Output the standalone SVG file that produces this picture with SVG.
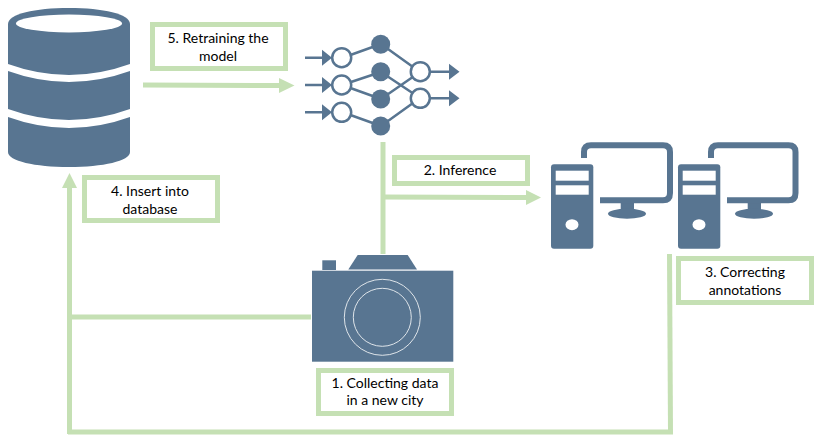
<svg xmlns="http://www.w3.org/2000/svg" width="821" height="448" viewBox="0 0 821 448">
<defs>
<style>
.f{fill:#587591}
.w{fill:#fff}
.box{fill:#fff;stroke:#c5e0b4;stroke-width:5}
.c{fill:none;stroke:#c5e0b4;stroke-width:5}
.h{fill:#c5e0b4}
.e{fill:none;stroke:#587591;stroke-width:2.5}
.o{fill:#fff;stroke:#587591;stroke-width:2.5}
.m{fill:none;stroke:#587591;stroke-width:6;stroke-linejoin:round}
.r{fill:none;stroke:#dfe5ea;stroke-width:1}
text{font-family:Lato,"Liberation Sans",sans-serif;font-size:14px;fill:#000;text-anchor:middle}
</style>
<g id="pc">
<rect class="f" x="551" y="164.3" width="42.3" height="84.4" rx="3"/>
<rect class="w" x="555.7" y="170.7" width="33" height="10"/>
<rect class="w" x="555.7" y="185.3" width="33" height="9.4"/>
<ellipse class="w" cx="572" cy="224.7" rx="6.5" ry="5.5"/>
<rect class="f" x="620.7" y="202" width="13.3" height="9"/>
<ellipse class="f" cx="627" cy="213.7" rx="19" ry="5"/>
</g>
</defs>
<g id="connectors">
<path class="c" d="M143,85L280,85.5"/><path class="h" d="M279,78L294.500,85.500L279,93Z"/>
<path class="c" d="M383,142V254"/>
<path class="c" d="M383,197L527,197.500"/><path class="h" d="M526,190L541,197.500L526,205Z"/>
<path class="c" d="M669.500,254L670.500,432"/>
<path class="c" d="M673,432L68,432"/>
<path class="c" d="M69.500,434V187"/><path class="h" d="M62,188L69.500,173L77,188Z"/>
<path class="c" d="M69,317H311"/>
</g>
<g id="database">
<path class="f" d="M8,24C8,14 35,8 69,8C103,8 130,14 130,24V64Q69,86 8,64Z"/>
<ellipse class="w" cx="69" cy="23.500" rx="53" ry="9"/>
<path class="f" d="M8,71Q69,93 130,71V109Q69,131 8,109Z"/>
<path class="f" d="M8,117Q69,139 130,117V152C130,161 103,167 69,167C35,167 8,161 8,152Z"/>
</g>
<g id="network">
<path class="e" d="M342,58L381,44M342,85L381,72M342,85L381,99M342,112L381,126M381,44L420,72M381,72L420,98M381,99L420,72M381,126L420,98"/>
<path class="e" d="M305,57.700H324M305,85H324M305,112.300H324M420,71.700H451M420,98.300H451"/>
<path class="f" d="M322,49.700L332,57.700L322,65.700ZM322,77L332,85L322,93ZM322,104.300L332,112.300L322,120.300ZM449,63.700L459.500,71.700L449,79.700ZM449,90.300L459.500,98.300L449,106.300Z"/>
<circle class="o" cx="341.700" cy="57.700" r="9.500"/><circle class="o" cx="341.700" cy="85" r="9.500"/><circle class="o" cx="341.700" cy="112.300" r="9.500"/>
<circle class="f" cx="380.700" cy="44.300" r="9.500"/><circle class="f" cx="380.700" cy="71.700" r="9.500"/><circle class="f" cx="380.700" cy="99" r="9.500"/><circle class="f" cx="380.700" cy="126" r="9.500"/>
<circle class="o" cx="420.300" cy="71.700" r="9.500"/><circle class="o" cx="420.300" cy="98.300" r="9.500"/>
</g>
<g id="computer-1"><use href="#pc"/><path class="m" d="M584,158V152Q584,145.300 591,145.300H663Q670,145.300 670,152V193Q670,200.300 663,200.300H600"/></g>
<g id="computer-2"><use href="#pc" x="127"/><path class="m" d="M711,158V152Q711,145.300 718,145.300H788.500Q795.500,145.300 795.500,152V193Q795.500,200.300 788.500,200.300H727"/></g>
<g id="camera">
<rect class="f" x="312" y="270.700" width="141.300" height="91"/>
<path class="f" d="M348.300,269.500L357.700,255H407.700L417,269.500Z"/>
<rect class="f" x="322.300" y="260.300" width="13.700" height="9.700"/>
<circle class="r" cx="382.300" cy="317.300" r="38"/>
<circle class="r" cx="382.300" cy="317.300" r="29"/>
</g>
<g id="label-5"><rect class="box" x="152.500" y="24.500" width="133" height="44"/><text x="218" y="43">5. Retraining the</text><text x="218" y="60.500">model</text></g>
<g id="label-4"><rect class="box" x="84.500" y="177.500" width="133" height="43"/><text x="150" y="196">4. Insert into</text><text x="150" y="213.500">database</text></g>
<g id="label-2"><rect class="box" x="394.500" y="157.500" width="133" height="26"/><text x="460" y="175">2. Inference</text></g>
<g id="label-3"><rect class="box" x="678.500" y="258.500" width="133" height="44"/><text x="745" y="277">3. Correcting</text><text x="745" y="294.500">annotations</text></g>
<g id="label-1"><rect class="box" x="318.500" y="370.500" width="133" height="43"/><text x="385" y="387.500">1. Collecting data</text><text x="385" y="405">in a new city</text></g>
</svg>
